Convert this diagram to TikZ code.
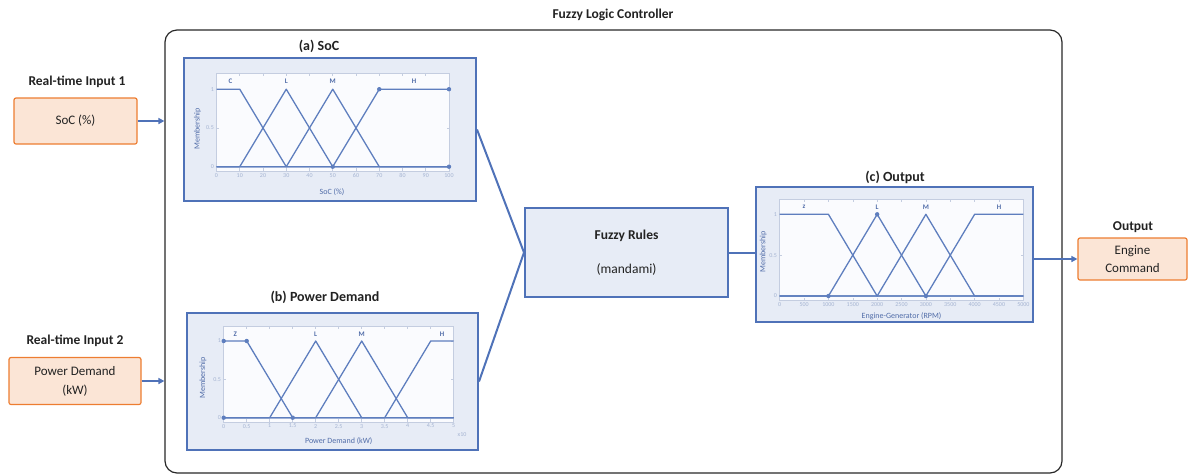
\documentclass[tikz,border=0pt]{standalone}
\usepackage{fontspec}
\setmainfont{Carlito}
\usetikzlibrary{arrows.meta}
\definecolor{blueline}{RGB}{79,114,184}
\definecolor{boxfill}{RGB}{231,236,246}
\definecolor{plotbg}{RGB}{250,251,254}
\definecolor{axc}{RGB}{196,205,224}
\definecolor{mfc}{RGB}{94,126,190}
\definecolor{tickc}{RGB}{165,180,210}
\definecolor{lblc}{RGB}{80,108,168}
\definecolor{orangeline}{RGB}{237,125,49}
\definecolor{orangefill}{RGB}{251,229,214}
\definecolor{txt}{RGB}{34,34,34}
\definecolor{outerc}{RGB}{40,40,40}
\newcommand\fsz[2]{\fontsize{#1}{#2}\selectfont}
\begin{document}
\begin{tikzpicture}[x=1pt,y=-1pt,
  inbox/.style={draw=orangeline, fill=orangefill, line width=1.2pt, rounded corners=2pt, align=center, text=txt, inner sep=0pt, font=\fsz{13}{18}},
  plotbox/.style={draw=blueline, fill=boxfill, line width=2pt, inner sep=0pt},
  rulebox/.style={draw=blueline, fill=boxfill, line width=2pt, align=center, text=txt, inner sep=0pt, font=\fsz{13.5}{34}},
  ttl/.style={font=\bfseries\fsz{13.5}{16}, text=txt},
  conn/.style={draw=blueline, line width=2pt},
  arr/.style={draw=blueline, line width=1.7pt, -{Triangle[length=6pt,width=6pt]}},
  mf/.style={draw=mfc, line width=1.3pt, line join=round},
  axis/.style={draw=axc, line width=0.6pt},
  tick/.style={font=\fsz{6}{6}, text=tickc, inner sep=1pt},
  mfl/.style={font=\bfseries\fsz{7}{8}, text=lblc, inner sep=0pt},
  axl/.style={font=\fsz{8}{8}, text=lblc, inner sep=0pt}
]
\useasboundingbox (0,0) rectangle (1189,475);

% outer controller
\node[draw=outerc, line width=1.2pt, rounded corners=12pt, minimum width=897pt, minimum height=443pt, inner sep=0pt] (ctrl) at (613.5,251.5) {};
\node[ttl] (ctrlt) at (613,15) {Fuzzy Logic Controller};

% inputs and output
\node[inbox, minimum width=123pt, minimum height=46pt] (in1) at (75.5,121) {SoC (\%)};
\node[ttl] (in1t) at (77,82) {Real-time Input 1};
\node[inbox, minimum width=132pt, minimum height=47pt, font=\fsz{13}{19}] (in2) at (75,381) {Power Demand\\(kW)};
\node[ttl] (in2t) at (75,341) {Real-time Input 2};
\node[inbox, minimum width=109pt, minimum height=42pt, font=\fsz{13}{17.5}] (eng) at (1132.5,259) {Engine\\Command};
\node[ttl] (engt) at (1133,227) {Output};

% plot boxes
\node[plotbox, minimum width=292pt, minimum height=143pt] (soc) at (330,129.5) {};
\node[plotbox, minimum width=291pt, minimum height=137pt] (pd) at (332.5,381.5) {};
\node[plotbox, minimum width=277pt, minimum height=135pt] (outp) at (894.5,254.5) {};
\node[rulebox, minimum width=203pt, minimum height=89pt] (rules) at (626.5,252.5) {\textbf{Fuzzy Rules}\\(mandami)};

\node[ttl, font=\bfseries\fsz{14}{16}] (soct) at (319,46) {(a) SoC};
\node[ttl, font=\bfseries\fsz{14}{16}] (pdt) at (325,297) {(b) Power Demand};
\node[ttl, font=\bfseries\fsz{14}{16}] (outt) at (895,177) {(c) Output};

% connectors
\draw[conn] (soc.east) -- (rules.west);
\draw[conn] (pd.east) -- (rules.west);
\draw[conn] (rules.east) -- (rules.east -| outp.west);
\draw[arr] (outp.east |- eng.west) -- (eng.west);
\draw[arr] (in1.east) -- (in1.east -| ctrl.west);
\draw[arr] (in2.east) -- (in2.east -| ctrl.west);

% ---------- SoC plot ----------
\begin{scope}[xshift=216.5pt, yshift=-166.7pt, x=2.325pt, y=77.5pt]
  \fill[plotbg] (0,-0.055) rectangle (100,1.2);
  \draw[axis] (0,-0.055) rectangle (100,1.2);
  \foreach \v in {0,10,...,100} {
    \draw[axis] (\v,-0.055) -- ++(0pt,2.5pt);
    \draw[axis] (\v,1.2) -- ++(0pt,-2.5pt);
    \node[tick, below, yshift=-1pt] at (\v,-0.055) {\v};
  }
  \foreach \v/\t in {0/0,0.5/0.5,1/1} {
    \draw[axis] (0,\v) -- ++(2.5pt,0pt);
    \draw[axis] (100,\v) -- ++(-2.5pt,0pt);
    \node[tick, left, xshift=-1.5pt] at (0,\v) {\t};
  }
  \draw[mf] (0,1) -- (10,1) -- (30,0) -- (100,0);
  \draw[mf] (0,0) -- (10,0) -- (30,1) -- (50,0) -- (100,0);
  \draw[mf] (0,0) -- (30,0) -- (50,1) -- (70,0) -- (100,0);
  \draw[mf] (0,0) -- (50,0) -- (70,1) -- (100,1);
  \foreach \p in {(70,1),(100,1),(100,0),(50,0)} \fill[mfc] \p circle (2.2pt);
  \node[mfl] at (6,1.1) {C};
  \node[mfl] at (30,1.1) {L};
  \node[mfl] at (50,1.1) {M};
  \node[mfl] at (85,1.1) {H};
\end{scope}
\node[axl] (socx) at (332,192) {SoC (\%)};
\node[axl, rotate=90] (socy) at (197.5,129) {Membership};

% ---------- Power demand plot ----------
\begin{scope}[xshift=223.7pt, yshift=-417.7pt, x=46pt, y=76.7pt]
  \fill[plotbg] (0,-0.055) rectangle (5,1.19);
  \draw[axis] (0,-0.055) rectangle (5,1.19);
  \foreach \v/\t in {0/0,0.5/0.5,1/1,1.5/1.5,2/2,2.5/2.5,3/3,3.5/3.5,4/4,4.5/4.5,5/5} {
    \draw[axis] (\v,-0.055) -- ++(0pt,2.5pt);
    \draw[axis] (\v,1.19) -- ++(0pt,-2.5pt);
    \node[tick, below, yshift=-1pt] at (\v,-0.055) {\t};
  }
  \foreach \v/\t in {0/0,0.5/0.5,1/1} {
    \draw[axis] (0,\v) -- ++(2.5pt,0pt);
    \draw[axis] (5,\v) -- ++(-2.5pt,0pt);
    \node[tick, left, xshift=-1.5pt] at (0,\v) {\t};
  }
  \draw[mf] (0,1) -- (0.5,1) -- (1.5,0) -- (5,0);
  \draw[mf] (0,0) -- (1,0) -- (2,1) -- (3,0) -- (5,0);
  \draw[mf] (0,0) -- (2,0) -- (3,1) -- (4,0) -- (5,0);
  \draw[mf] (0,0) -- (3.5,0) -- (4.5,1) -- (5,1);
  \foreach \p in {(0,1),(0.5,1),(1.5,0),(0,0)} \fill[mfc] \p circle (2.2pt);
  \node[mfl] at (0.25,1.09) {Z};
  \node[mfl] at (2,1.09) {L};
  \node[mfl] at (3,1.09) {M};
  \node[mfl] at (4.75,1.09) {H};
\end{scope}
\node[tick] (pdx10) at (462,435) {x10};
\node[axl] (pdx) at (338.7,440.7) {Power Demand (kW)};
\node[axl, rotate=90] (pdy) at (203,378) {Membership};

% ---------- Output plot ----------
\begin{scope}[xshift=779.7pt, yshift=-296pt, x=48.73pt, y=81.7pt]
  \fill[plotbg] (0,-0.055) rectangle (5,1.18);
  \draw[axis] (0,-0.055) rectangle (5,1.18);
  \foreach \v/\t in {0/0,0.5/500,1/1000,1.5/1500,2/2000,2.5/2500,3/3000,3.5/3500,4/4000,4.5/4500,5/5000} {
    \draw[axis] (\v,-0.055) -- ++(0pt,2.5pt);
    \draw[axis] (\v,1.18) -- ++(0pt,-2.5pt);
    \node[tick, below, yshift=-1pt] at (\v,-0.055) {\t};
  }
  \foreach \v/\t in {0/0,0.5/0.5,1/1} {
    \draw[axis] (0,\v) -- ++(2.5pt,0pt);
    \draw[axis] (5,\v) -- ++(-2.5pt,0pt);
    \node[tick, left, xshift=-1.5pt] at (0,\v) {\t};
  }
  \draw[mf] (0,1) -- (1,1) -- (2,0) -- (5,0);
  \draw[mf] (0,0) -- (1,0) -- (2,1) -- (3,0) -- (5,0);
  \draw[mf] (0,0) -- (2,0) -- (3,1) -- (4,0) -- (5,0);
  \draw[mf] (0,0) -- (3,0) -- (4,1) -- (5,1);
  \foreach \p in {(1,0),(2,1),(3,0)} \fill[mfc] \p circle (2.2pt);
  \node[mfl] at (0.5,1.09) {z};
  \node[mfl] at (2,1.09) {L};
  \node[mfl] at (3,1.09) {M};
  \node[mfl] at (4.5,1.09) {H};
\end{scope}
\node[axl] (outx) at (901.5,316.7) {Engine-Generator (RPM)};
\node[axl, rotate=90] (outy) at (763.3,252) {Membership};
\end{tikzpicture}
\end{document}
